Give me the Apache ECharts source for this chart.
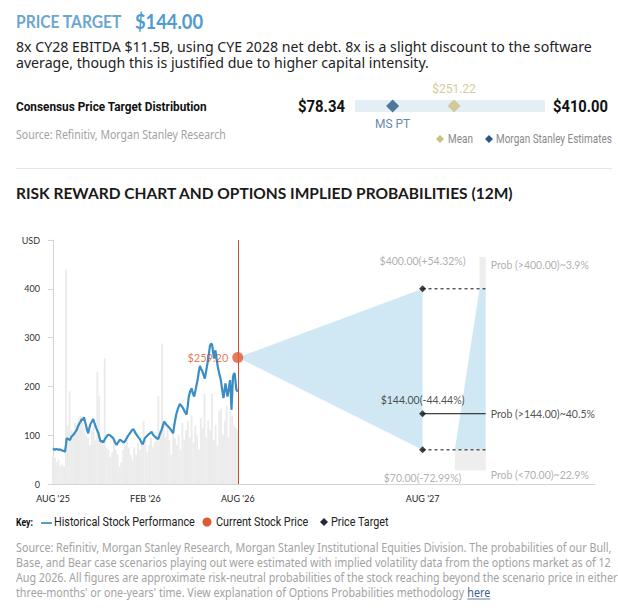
<!DOCTYPE html>
<html>
<head>
<meta charset="utf-8">
<script src="https://cdn.jsdelivr.net/npm/echarts@6.0.0/dist/echarts.min.js"></script>
<style>
  html, body { margin: 0; padding: 0; background: #fff; }
  #main { width: 618px; height: 612px; }
</style>
</head>
<body>
<div id="main"></div>
<script>
// consensus price target distribution
const consensusRange = [78.34, 410.00];
const consensusMean = [251.22];
const consensusMs = [144.00];

// x axis in months from Aug '25
const tickMonths = [0, 6, 12, 24];
const tickLabels = ["AUG '25", "FEB '26", "AUG '26", "AUG '27"];

// historical stock price (month, USD)
const stockMonths = [
  0.00, 0.12, 0.22, 0.34, 0.45, 0.56, 0.66, 0.78, 0.84, 0.89, 1.00, 1.10, 1.20, 1.32, 1.42, 1.54,
  1.62, 1.71, 1.80, 1.86, 1.95, 2.01, 2.08, 2.14, 2.22, 2.29, 2.37, 2.45, 2.53, 2.61, 2.70, 2.79,
  2.87, 2.94, 3.02, 3.09, 3.18, 3.26, 3.37, 3.48, 3.58, 3.70, 3.80, 3.91, 4.02, 4.13, 4.24, 4.35,
  4.48, 4.61, 4.72, 4.82, 4.95, 5.10, 5.18, 5.25, 5.36, 5.47, 5.56, 5.64, 5.73, 5.82, 5.90, 5.97,
  6.08, 6.18, 6.30, 6.40, 6.50, 6.62, 6.72, 6.83, 6.94, 7.05, 7.14, 7.22, 7.30, 7.38, 7.48, 7.59,
  7.70, 7.80, 7.90, 8.02, 8.12, 8.24, 8.35, 8.45, 8.56, 8.67, 8.75, 8.82, 8.91, 9.00, 9.08, 9.17,
  9.28, 9.39, 9.47, 9.54, 9.61, 9.68, 9.77, 9.86, 9.95, 10.03, 10.12, 10.20, 10.27, 10.33, 10.40, 10.46,
  10.51, 10.55, 10.63, 10.72, 10.81, 10.90, 10.98, 11.07, 11.14, 11.20, 11.27, 11.33, 11.42, 11.50, 11.55, 11.59,
  11.64, 11.69, 11.75, 11.80, 11.86, 11.91, 11.96, 12.00
];
const stockPrices = [
  73, 70, 72, 70, 71, 69, 68, 66, 80, 94, 92, 90, 97, 101, 105, 111,
  118, 124, 128, 133, 131, 137, 128, 121, 110, 104, 116, 124, 128, 133, 124, 116,
  110, 105, 95, 87, 88, 85, 92, 97, 101, 100, 97, 94, 86, 80, 86, 91,
  88, 85, 90, 96, 102, 109, 112, 111, 104, 99, 95, 92, 86, 81, 88, 94,
  98, 101, 104, 107, 101, 97, 94, 92, 102, 111, 120, 128, 124, 121, 118, 114,
  109, 104, 125, 145, 155, 164, 160, 155, 148, 142, 160, 179, 190, 196, 186, 179,
  196, 213, 230, 242, 236, 233, 224, 216, 232, 247, 266, 284, 288, 286, 270, 257,
  266, 274, 255, 237, 225, 213, 195, 176, 192, 206, 192, 179, 196, 213, 183, 152,
  186, 220, 226, 226, 208, 193, 191, 189
];

// grey background bars, one every 0.12 month from Aug '25
const volumeValues = [
  60, 55, 45, 50, 38, 40, 35, 440, 120, 190, 110, 105, 125, 120, 135, 140,
  125, 115, 100, 95, 80, 110, 120, 90, 230, 180, 90, 80, 258, 75, 70, 55,
  65, 85, 70, 60, 35, 45, 70, 80, 90, 75, 60, 50, 75, 60, 85, 70,
  80, 130, 90, 65, 80, 95, 75, 85, 100, 180, 110, 288, 130, 95, 120, 90,
  60, 110, 95, 80, 100, 70, 125, 90, 110, 130, 95, 140, 85, 120, 100, 70,
  135, 115, 185, 95, 130, 110, 185, 90, 120, 80, 150, 155, 100, 130, 160, 95,
  150, 140, 120, 115, 110
];

// current price and scenarios
const currentMonth = 12;
const currentPrice = 259.20;
const targetMonth = 24;
const targetPrices = [400.00, 144.00, 70.00];
const targetLabels = ['$400.00(+54.32%)', '$144.00(-44.44%)', '$70.00(-72.99%)'];
const probLabels = ['Prob (>400.00)~3.9%', 'Prob (>144.00)~40.5%', 'Prob (<70.00)~22.9%'];

// implied distribution wedge (months / USD)
const distTop = 465, distBottom = 28;
const distRight = 28.1, distLeftHigh = 27.7, distLeftLow = 26.1;

const descLines = [
  '8x CY28 EBITDA $11.5B, using CYE 2028 net debt. 8x is a slight discount to the software',
  'average, though this is justified due to higher capital intensity.'
];
const footerLines = [
  'Source: Refinitiv, Morgan Stanley Research, Morgan Stanley Institutional Equities Division. The probabilities of our Bull,',
  'Base, and Bear case scenarios playing out were estimated with implied volatility data from the options market as of 12',
  'Aug 2026. All figures are approximate risk-neutral probabilities of the stock reaching beyond the scenario price in either',
  "three-months' or one-years' time. View explanation of Options Probabilities methodology "
];

const GRAY = '#a2a2a2';
const ctx = document.createElement('canvas').getContext('2d');
function measure(text, font) { ctx.font = font; return ctx.measureText(text).width; }

function txt(text, x, y, font, fill, width, align, sx) {
  const scaleX = sx || (width ? width / measure(text, font) : 1);
  return {
    type: 'text', x, y, scaleX, silent: true,
    style: { text, font, fill, align: align || 'left', verticalAlign: 'middle',
      textAlign: align || 'left', textVerticalAlign: 'middle' }
  };
}
function diamond(cx, cy, r, fill) {
  return { type: 'polygon', silent: true,
    shape: { points: [[cx, cy - r], [cx + r, cy], [cx, cy + r], [cx - r, cy]] }, style: { fill } };
}

const fmt = v => '$' + v.toFixed(2);

const descFont = '14px "Noto Sans"';
const descScale = 576 / measure(descLines[0], descFont);
const footFont = '12px "Noto Sans"';
const footScale = 596 / measure(footerLines[0], footFont);
const keyFont = '13px Roboto';
const keyScale = 141 / measure('Historical Stock Performance', keyFont);
const legFont = '12px Roboto';
const legScale = 116 / measure('Morgan Stanley Estimates', legFont);

const graphic = [
  txt('PRICE TARGET', 16, 21, 'bold 17px Lato', '#6ba6cf', 106),
  txt(fmt(consensusMs[0]), 135, 21, 'bold 20px Lato', '#4f9ad0', 68),
  txt(descLines[0], 16, 47, descFont, '#222', null, 'left', descScale),
  txt(descLines[1], 16, 63, descFont, '#222', null, 'left', descScale),
  txt('Consensus Price Target Distribution', 16, 106, 'bold 13px Roboto', '#111', 191),
  txt(fmt(consensusRange[0]), 345, 106, 'bold 17px Roboto', '#111', 47, 'right'),
  txt(fmt(consensusRange[1]), 553, 106, 'bold 17px Roboto', '#111', 55),
  txt('Source: Refinitiv, Morgan Stanley Research', 16, 134, '12px "Noto Sans"', GRAY, 210),
  diamond(440, 139, 4, '#cdbf83'),
  txt('Mean', 448, 139, legFont, '#8a8a8a', null, 'left', legScale),
  diamond(489, 139, 4, '#2b5786'),
  txt('Morgan Stanley Estimates', 496, 139, legFont, '#8a8a8a', null, 'left', legScale),
  { type: 'line', silent: true, shape: { x1: 16, y1: 168.5, x2: 612, y2: 168.5 }, style: { stroke: '#e6e6e6', lineWidth: 1 } },
  txt('RISK REWARD CHART AND OPTIONS IMPLIED PROBABILITIES (12M)', 16, 193, 'bold 15px Lato', '#1a1a1a', 498),
  txt('Key:', 16, 522, 'bold 11px Roboto', '#111', 17),
  { type: 'line', silent: true, shape: { x1: 41, y1: 523, x2: 52, y2: 523 }, style: { stroke: '#5b9bc7', lineWidth: 2 } },
  txt('Historical Stock Performance', 54, 522, keyFont, '#222', null, 'left', keyScale),
  { type: 'circle', silent: true, shape: { cx: 207, cy: 522, r: 4.5 }, style: { fill: '#de5a35' } },
  txt('Current Stock Price', 216, 522, keyFont, '#222', null, 'left', keyScale),
  diamond(324, 522, 4, '#26293d'),
  txt('Price Target', 331, 522, keyFont, '#222', null, 'left', keyScale)
];
footerLines.forEach((line, i) => {
  graphic.push(txt(line, 16, 547 + i * 15.2, footFont, GRAY, null, 'left', footScale));
});
const hereX = 16 + measure(footerLines[3], footFont) * footScale;
const hereW = measure('here', footFont) * footScale;
graphic.push(txt('here', hereX, 547 + 3 * 15.2, footFont, '#3d5f8c', null, 'left', footScale));
graphic.push({ type: 'line', silent: true,
  shape: { x1: hereX, y1: 599, x2: hereX + hereW, y2: 599 }, style: { stroke: '#3d5f8c', lineWidth: 0.8 } });

const labelFont = { fontFamily: 'Lato', fontSize: 10.5 };

const option = {
  animation: false,
  textStyle: { fontFamily: 'Lato' },
  graphic,
  grid: [
    { left: 355, width: 190, top: 100, height: 12, show: true, backgroundColor: '#e4eef5', borderWidth: 0 },
    { left: 53, right: 23, top: 240, bottom: 128 }
  ],
  xAxis: [
    { gridIndex: 0, type: 'value', min: consensusRange[0], max: consensusRange[1], show: false },
    {
      gridIndex: 1, type: 'value', min: 0, max: 35.2, interval: 6,
      axisLine: { lineStyle: { color: '#d4d4d4' } },
      axisTick: { show: false },
      splitLine: { show: false },
      axisLabel: {
        color: '#222', fontSize: 9, margin: 10, showMaxLabel: false,
        formatter: v => { const i = tickMonths.indexOf(v); return i >= 0 ? tickLabels[i] : ''; }
      }
    }
  ],
  yAxis: [
    { gridIndex: 0, type: 'value', min: -1, max: 1, show: false },
    {
      gridIndex: 1, type: 'value', min: 0, max: 500, interval: 100,
      axisLine: { show: true, lineStyle: { color: '#d4d4d4' } },
      axisTick: { show: true, length: 5, lineStyle: { color: '#d4d4d4' } },
      splitLine: { show: false },
      axisLabel: { color: '#333', fontSize: 9, margin: 13, formatter: v => v === 500 ? 'USD' : v }
    }
  ],
  series: [
    {
      name: 'Mean', type: 'scatter', xAxisIndex: 0, yAxisIndex: 0, symbol: 'diamond', symbolSize: 13,
      itemStyle: { color: '#cdbf83' },
      label: { show: true, position: 'top', distance: 5, formatter: fmt(consensusMean[0]),
        color: '#c9bc82', fontFamily: 'Roboto', fontSize: 12 },
      data: consensusMean.map(v => [v, 0])
    },
    {
      name: 'Morgan Stanley Estimates', type: 'scatter', xAxisIndex: 0, yAxisIndex: 0, symbol: 'diamond', symbolSize: 13,
      itemStyle: { color: '#2b5786' },
      label: { show: true, position: 'bottom', distance: 5, formatter: 'MS PT',
        color: '#3a6796', fontFamily: 'Roboto', fontSize: 12 },
      data: consensusMs.map(v => [v, 0])
    },
    {
      type: 'bar', xAxisIndex: 1, yAxisIndex: 1, barWidth: 1.9, silent: true, z: 1,
      itemStyle: { color: '#ebebeb' },
      data: volumeValues.map((v, i) => [i * 12 / (volumeValues.length - 1), v])
    },
    {
      type: 'custom', xAxisIndex: 1, yAxisIndex: 1, silent: true, z: 2,
      data: [[currentMonth, currentPrice, targetMonth, targetPrices[0], targetPrices[2]]],
      renderItem: (params, api) => ({
        type: 'polygon',
        shape: { points: [
          api.coord([api.value(0), api.value(1)]),
          api.coord([api.value(2), api.value(3)]),
          api.coord([api.value(2), api.value(4)])
        ] },
        style: { fill: '#d0e8f4' }
      })
    },
    {
      type: 'custom', xAxisIndex: 1, yAxisIndex: 1, silent: true, z: 2,
      data: [[distLeftHigh, distTop, distRight, targetPrices[0], targetPrices[2], distLeftLow, distBottom]],
      renderItem: (params, api) => {
        const c = (x, y) => api.coord([x, y]);
        const hi = targetPrices[0], lo = targetPrices[2];
        return { type: 'group', children: [
          { type: 'polygon', shape: { points: [c(distLeftHigh, distTop), c(distRight, distTop), c(distRight, hi), c(distLeftHigh, hi)] }, style: { fill: '#eeeeee' } },
          { type: 'polygon', shape: { points: [c(distLeftHigh, hi), c(distRight, hi), c(distRight, lo), c(distLeftLow, lo)] }, style: { fill: '#d0e8f4' } },
          { type: 'polygon', shape: { points: [c(distLeftLow, lo), c(distRight, lo), c(distRight, distBottom), c(distLeftLow, distBottom)] }, style: { fill: '#eeeeee' } }
        ] };
      }
    },
    {
      type: 'custom', xAxisIndex: 1, yAxisIndex: 1, silent: true, z: 3,
      data: targetPrices.map((p, i) => [targetMonth, p, distRight, i]),
      renderItem: (params, api) => {
        const a = api.coord([api.value(0), api.value(1)]);
        const b = api.coord([api.value(2), api.value(1)]);
        return { type: 'line', shape: { x1: a[0], y1: a[1], x2: b[0], y2: b[1] },
          style: { stroke: '#111', lineWidth: 1, lineDash: api.value(3) === 1 ? null : [3, 3] } };
      }
    },
    {
      type: 'line', xAxisIndex: 1, yAxisIndex: 1, showSymbol: false, silent: true, z: 4,
      lineStyle: { color: '#3b8dc5', width: 2.2 },
      data: stockMonths.map((m, i) => [m, stockPrices[i]]),
      markLine: {
        silent: true, symbol: 'none', label: { show: false },
        lineStyle: { color: '#c9502f', width: 1, type: 'solid' },
        data: [{ xAxis: currentMonth }]
      }
    },
    {
      type: 'scatter', xAxisIndex: 1, yAxisIndex: 1, symbolSize: 11, silent: true, z: 5,
      itemStyle: { color: '#e05a33' },
      label: { show: true, position: 'left', distance: 4, formatter: fmt(currentPrice),
        color: '#d9542c', fontFamily: 'Lato', fontSize: 11 },
      data: [[currentMonth, currentPrice]]
    },
    {
      type: 'scatter', xAxisIndex: 1, yAxisIndex: 1, symbol: 'diamond', symbolSize: 7, silent: true, z: 5,
      itemStyle: { color: '#111' },
      data: targetPrices.map((p, i) => ({
        value: [targetMonth, p],
        label: {
          show: true, formatter: targetLabels[i], ...labelFont,
          color: i === 1 ? '#222' : '#9a9a9a',
          position: i === 2 ? 'bottom' : 'top',
          distance: i === 0 ? 18.5 : i === 1 ? 4.5 : 19.5
        }
      }))
    },
    {
      type: 'scatter', xAxisIndex: 1, yAxisIndex: 1, symbolSize: 0, silent: true, z: 5,
      data: targetPrices.map((p, i) => ({
        value: [distRight, p],
        label: {
          show: true, formatter: probLabels[i], ...labelFont, position: 'right', distance: 5,
          color: i === 1 ? '#222' : '#9a9a9a',
          offset: [0, i === 0 ? -24 : i === 2 ? 25 : 0]
        }
      }))
    }
  ]
};

const chart = echarts.init(document.getElementById('main'), null, { renderer: 'svg' });
chart.setOption(option);
</script>
</body>
</html>
